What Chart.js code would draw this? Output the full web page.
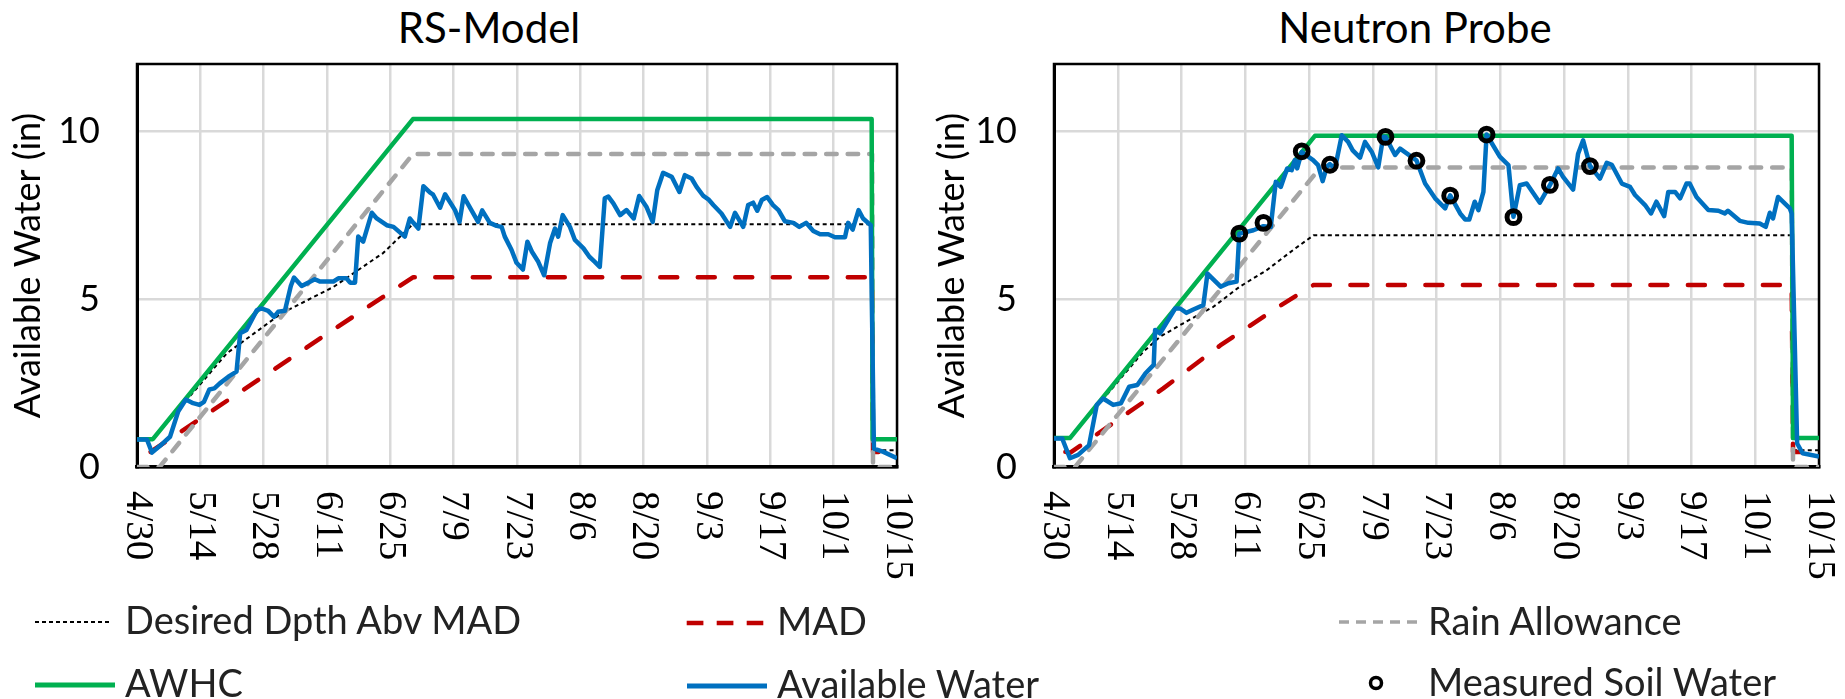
<!DOCTYPE html>
<html>
<head>
<meta charset="utf-8">
<script src="https://cdn.jsdelivr.net/npm/chart.js@4.4.1/dist/chart.umd.min.js"></script>
<style>
html,body{margin:0;padding:0;background:#fff;}
body{width:1845px;height:699px;position:relative;overflow:hidden;font-family:Lato,"Open Sans",sans-serif;}
canvas{position:absolute;top:0;}
#c1{left:0;width:925px;height:600px;}
#c2{left:924px;width:921px;height:600px;}
.title{position:absolute;top:6px;font-size:42px;line-height:42px;color:#000;white-space:nowrap;transform:translateX(-50%);}
.lg{position:absolute;font-size:38px;line-height:38px;color:#222;white-space:nowrap;}
#sw{position:absolute;left:0;top:0;}
</style>
</head>
<body>
<div class="title" style="left:489px">RS-Model</div>
<div class="title" style="left:1415px">Neutron Probe</div>
<canvas id="c1" width="925" height="600"></canvas>
<canvas id="c2" width="921" height="600"></canvas>
<svg id="sw" width="1845" height="699">
  <line x1="35" y1="622" x2="110" y2="622" stroke="#000" stroke-width="2" stroke-dasharray="4 3"/>
  <line x1="686.7" y1="623" x2="763.3" y2="623" stroke="#c00000" stroke-width="4.5" stroke-dasharray="16.7 13.3"/>
  <line x1="1339" y1="622" x2="1418" y2="622" stroke="#a5a5a5" stroke-width="3.5" stroke-dasharray="10 7"/>
  <line x1="35" y1="685" x2="115" y2="685" stroke="#00b050" stroke-width="5"/>
  <line x1="687" y1="686" x2="767" y2="686" stroke="#0070c0" stroke-width="5"/>
  <circle cx="1376" cy="683" r="5.5" fill="none" stroke="#000" stroke-width="3.5"/>
</svg>
<div class="lg" style="left:125px;top:600px">Desired Dpth Abv MAD</div>
<div class="lg" style="left:777px;top:601px">MAD</div>
<div class="lg" style="left:1428px;top:601px">Rain Allowance</div>
<div class="lg" style="left:125px;top:663px">AWHC</div>
<div class="lg" style="left:777px;top:664px">Available Water</div>
<div class="lg" style="left:1428px;top:662px">Measured Soil Water</div>

<script>
// ---------- tick data ----------
const xTickDays = [0, 14, 28, 42, 56, 70, 84, 98, 112, 126, 140, 154, 168];
const xTickLabels = ['4/30','5/14','5/28','6/11','6/25','7/9','7/23','8/6','8/20','9/3','9/17','10/1','10/15'];
const yTickValues = [0, 5, 10];

// ---------- RS-Model series: [day since 4/30, inches] ----------
const rsDesired = [[0,0.83],[3.5,0.83],[19.9,3.39],[32,4.58],[43.4,5.36],[54.4,6.37],[61,7.23],[162.5,7.23],[162.7,0.5],[168,0.5]];
const rsMAD = [[3,0.45],[43.3,4.08],[61,5.65],[162.5,5.65],[162.7,0.45],[168,0.45]];
const rsRain = [[0,0],[5,0],[61,9.32],[162.5,9.32],[162.7,0],[168,0]];
const rsAWHC = [[0,0.83],[3.5,0.83],[61,10.36],[162.4,10.36],[162.6,0.83],[168,0.83]];
const rsAvailable = [[0,0.82],[2.2,0.82],[3.3,0.43],[5.1,0.63],[7.3,0.9],[9.1,1.65],[10.8,2.01],[12.4,1.9],[13.8,1.85],[14.8,1.94],[16,2.31],[17.1,2.34],[18.3,2.49],[20.2,2.69],[22,2.84],[22.8,3.98],[24.2,4.08],[26.5,4.67],[27.6,4.72],[29,4.65],[30.3,4.47],[31.2,4.62],[32.7,4.65],[34,5.39],[34.7,5.64],[36.4,5.39],[37.9,5.49],[39.3,5.59],[40.5,5.52],[43.4,5.52],[44.5,5.62],[46.3,5.62],[47.1,5.49],[48.2,5.49],[48.9,6.86],[50,6.71],[51.9,7.57],[53,7.4],[55.2,7.2],[56.7,7.15],[59.2,6.86],[60.3,7.4],[61.1,7.27],[62.2,7.1],[63.3,8.36],[64.8,8.17],[65.4,8.12],[67,7.72],[68.1,8.12],[70.3,7.65],[71.3,7.3],[72.2,8.06],[73.7,7.7],[75.4,7.3],[76.3,7.64],[78,7.27],[79.5,7.18],[80.6,7.15],[81.3,6.86],[82.8,6.46],[83.9,6.08],[85.3,5.88],[86.3,6.71],[87.3,6.41],[88.7,6.11],[90,5.71],[91.3,6.66],[92.4,7.1],[93.1,6.86],[94.1,7.5],[95.7,7.15],[96.8,6.76],[98.7,6.51],[100,6.26],[101.2,6.11],[102.3,5.96],[103.4,8.0],[104.2,8.05],[105.3,7.85],[106.8,7.5],[108.2,7.65],[109.8,7.4],[111,8.07],[112.6,7.75],[114,7.3],[115,8.24],[116.3,8.76],[118.2,8.64],[119.9,8.19],[121.1,8.69],[122.6,8.59],[123.7,8.34],[125.2,8.07],[126.3,7.97],[127.4,7.8],[129.2,7.55],[131.1,7.15],[132.2,7.57],[134,7.15],[135.1,7.8],[136.2,7.87],[137.1,7.63],[138.1,7.95],[139.3,8.04],[140.6,7.8],[141.8,7.65],[143.2,7.32],[145.1,7.27],[146.4,7.15],[147.9,7.27],[149.5,7.03],[151,6.93],[152.8,6.93],[154.3,6.84],[156.5,6.84],[157.2,7.27],[158.2,7.07],[159.5,7.65],[160.5,7.4],[162.2,7.2],[162.9,0.55],[165,0.45],[168,0.26]];

// ---------- Neutron Probe series ----------
const npDesired = [[0,0.86],[3.5,0.86],[19.6,3.43],[23.3,3.88],[28.4,4.28],[35,4.77],[40.8,5.37],[46.7,5.86],[52.5,6.46],[57,6.9],[162,6.9],[162.3,0.5],[168,0.5]];
const npMAD = [[2.5,0.45],[3.5,0.42],[24,2.34],[36.5,3.62],[49.3,4.77],[57,5.42],[162,5.42],[162.3,0.45],[168,0.45]];
const npRain = [[0,0],[4.6,0],[58.5,8.92],[162,8.92],[162.3,0],[168,0]];
const npAWHC = [[0,0.86],[3.5,0.86],[57.3,9.86],[162,9.86],[162.3,0.86],[168,0.86]];
const npAvailable = [[0,0.85],[1.8,0.85],[3.5,0.26],[5.3,0.36],[7.7,0.65],[9.4,1.85],[10.8,2.04],[13,1.85],[14.7,1.9],[16.5,2.39],[18.3,2.44],[20.1,2.79],[21.9,3.04],[22.2,4.08],[23.3,3.98],[26.6,4.72],[27.7,4.72],[29.1,4.59],[30.6,4.69],[32.8,4.82],[33.7,5.76],[36.6,5.37],[38.3,5.47],[40.1,5.52],[40.7,6.95],[43.8,7.05],[46,7.17],[47.6,7.15],[48.7,8.49],[49.8,8.34],[51.2,8.89],[52.2,8.84],[52.9,9.14],[53.4,8.89],[54.4,9.38],[56.9,9.14],[58,8.99],[59,8.51],[59.9,8.94],[60.6,9.02],[61.7,8.89],[63.2,9.88],[64.6,9.68],[65.6,9.43],[67.2,9.21],[68.3,9.68],[69.8,9.38],[71.2,8.92],[72.3,9.83],[72.8,9.83],[74.9,9.29],[76,9.48],[79.6,9.13],[81.5,8.44],[83.7,8.0],[85.9,7.7],[87,8.09],[89.2,7.55],[90.3,7.37],[91.2,7.37],[92.4,7.9],[93.2,7.65],[94.3,8.19],[95,9.9],[97.9,9.24],[99.8,8.99],[100.9,7.45],[102.3,8.39],[103.8,8.44],[106.7,7.87],[108.9,8.39],[110.7,8.89],[111.8,8.64],[114,8.26],[115.1,9.33],[116.2,9.73],[117.7,8.97],[119.9,8.59],[121.4,9.06],[122.5,9.0],[124.7,8.44],[126.5,8.34],[127.6,8.1],[129.8,7.8],[131.1,7.55],[132.3,7.9],[134,7.47],[134.9,8.19],[136.4,8.19],[137.5,8.0],[138.9,8.44],[139.6,8.44],[141.1,8.04],[143.7,7.65],[145.9,7.63],[147.3,7.55],[148,7.63],[150.6,7.33],[152.5,7.27],[155,7.25],[156.3,7.15],[157.2,7.57],[157.9,7.4],[159,8.04],[161.6,7.7],[162,7.55],[163.2,0.7],[164.4,0.41],[168,0.31]];
const npMeasured = [[40.7,6.95],[46,7.27],[54.4,9.4],[60.6,9.0],[72.8,9.83],[79.6,9.12],[87,8.08],[95,9.9],[100.9,7.44],[108.9,8.4],[117.7,8.96]];

// ---------- helpers ----------
const pts = arr => arr.map(p => ({x: p[0], y: p[1]}));

const framePlugin = {
  id: 'frameAndDates',
  beforeDatasetsDraw(chart) {
    const {ctx, chartArea: a} = chart;
    ctx.save();
    ctx.strokeStyle = '#000';
    ctx.lineWidth = 2.5;
    ctx.strokeRect(a.left, a.top, a.right - a.left, a.bottom - a.top);
    ctx.restore();
  },
  afterDraw(chart) {
    const s = chart.scales.x;
    const ctx = chart.ctx;
    ctx.save();
    ctx.fillStyle = '#000';
    ctx.font = '39px "Liberation Serif", "Times New Roman", serif';
    ctx.textAlign = 'left';
    ctx.textBaseline = 'middle';
    s.ticks.forEach((t, i) => {
      const x = s.getPixelForValue(t.value);
      ctx.save();
      ctx.translate(x, s.top + 24);
      ctx.rotate(Math.PI / 2);
      ctx.fillText(xTickLabels[i], 0, 0);
      ctx.restore();
    });
    ctx.restore();
  }
};

function lineDs(label, data, color, width, dash, cap) {
  return {
    label, data: pts(data), borderColor: color, backgroundColor: color,
    borderWidth: width, borderDash: dash || [], borderCapStyle: cap || 'butt',
    borderJoinStyle: 'round', pointRadius: 0, tension: 0, fill: false
  };
}

function makeChart(id, s, yWidth, rightPad) {
  const datasets = [];
  if (s.measured) {
    datasets.push({
      label: 'Measured Soil Water', data: pts(s.measured), showLine: false,
      pointRadius: 6.4, pointBorderWidth: 5, pointBorderColor: '#000',
      pointBackgroundColor: 'rgba(0,0,0,0)', borderColor: '#000', backgroundColor: 'rgba(0,0,0,0)'
    });
  }
  datasets.push(lineDs('Available Water', s.available, '#0070c0', 4.5));
  datasets.push(lineDs('AWHC', s.awhc, '#00b050', 4.5));
  datasets.push(lineDs('Rain Allowance', s.rain, '#a5a5a5', 4.5, [10.5, 11], 'round'));
  datasets.push(lineDs('MAD', s.mad, '#c00000', 4.5, [17, 20.5], 'round'));
  datasets.push(lineDs('Desired Dpth Abv MAD', s.desired, '#000', 2, [4, 3.3]));

  return new Chart(document.getElementById(id), {
    type: 'line',
    data: {datasets},
    options: {
      responsive: false, animation: false, devicePixelRatio: 1,
      layout: {padding: {left: 0, top: 64, right: rightPad, bottom: 0}},
      plugins: {legend: {display: false}, tooltip: {enabled: false}, title: {display: false}},
      scales: {
        x: {
          type: 'linear', min: 0, max: 168,
          afterBuildTicks: sc => { sc.ticks = xTickDays.map(v => ({value: v})); },
          ticks: {display: false},
          grid: {color: '#d9d9d9', lineWidth: 2.5, drawTicks: false},
          border: {display: true, color: '#000', width: 3.5},
          afterFit: sc => { sc.height = 133; }
        },
        y: {
          type: 'linear', min: 0, max: 12,
          afterBuildTicks: sc => { sc.ticks = yTickValues.map(v => ({value: v})); },
          ticks: {color: '#000', padding: 37, font: {family: 'Lato', size: 36}},
          grid: {color: '#d9d9d9', lineWidth: 2.5, drawTicks: false},
          border: {display: true, color: '#000', width: 3},
          title: {display: true, text: 'Available Water (in)', color: '#000',
                  font: {family: 'Lato', size: 36}, padding: {top: 7, bottom: 0}},
          afterFit: sc => { sc.width = yWidth; }
        }
      }
    },
    plugins: [framePlugin]
  });
}

makeChart('c1', {available: rsAvailable, awhc: rsAWHC, rain: rsRain, mad: rsMAD, desired: rsDesired}, 137, 28);
makeChart('c2', {available: npAvailable, awhc: npAWHC, rain: npRain, mad: npMAD, desired: npDesired, measured: npMeasured}, 130, 26);
</script>
</body>
</html>
